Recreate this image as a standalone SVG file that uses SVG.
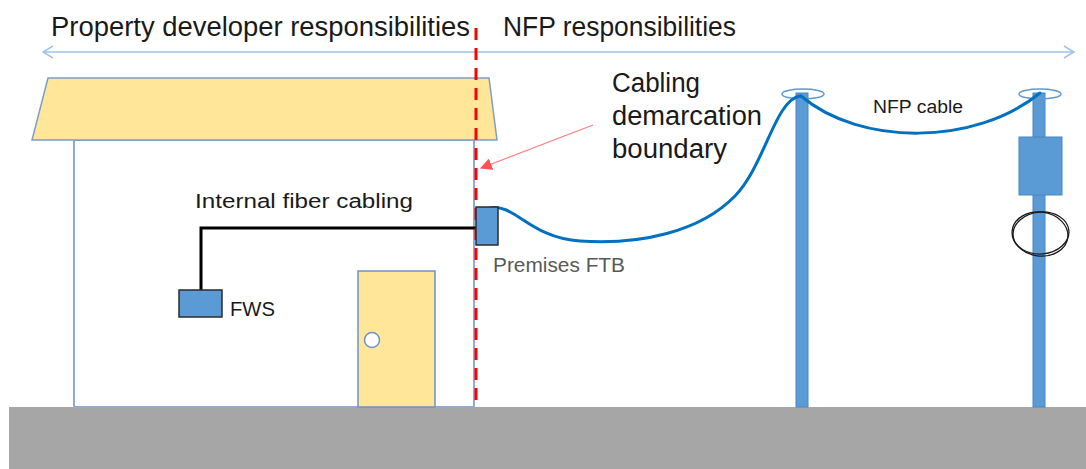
<svg xmlns="http://www.w3.org/2000/svg" width="1086" height="469" viewBox="0 0 1086 469">
  <style>
    .lbl { font-family: "Liberation Sans", Arial, sans-serif; fill: #1a1a1a; }
    .head { font-size: 27px; }
    .mid { font-size: 20px; }
    .call { font-size: 27px; }
    .pole { fill: #5b9bd5; stroke: #4a86c0; stroke-width: 1; }
    .ring { fill: none; stroke: #5b9bd5; stroke-width: 1.5; }
    .fiber { fill: none; stroke: #0070c0; stroke-width: 3; stroke-linecap: round; }
    .box { fill: #5b9bd5; stroke: #2b2b2b; stroke-width: 1.5; }
    .wall { stroke: #8eaad6; stroke-width: 2; }
  </style>
  <defs>
    <marker id="chevron-start" viewBox="0 0 12 14" refX="1" refY="7" markerWidth="12" markerHeight="14" markerUnits="userSpaceOnUse" orient="auto">
      <path d="M11,1 L1,7 L11,13" fill="none" stroke="#9dc3e6" stroke-width="1.5"/>
    </marker>
    <marker id="chevron-end" viewBox="0 0 12 14" refX="11" refY="7" markerWidth="12" markerHeight="14" markerUnits="userSpaceOnUse" orient="auto">
      <path d="M1,1 L11,7 L1,13" fill="none" stroke="#9dc3e6" stroke-width="1.5"/>
    </marker>
    <marker id="red-head" viewBox="0 0 10 10" refX="9" refY="5" markerWidth="12" markerHeight="12" markerUnits="userSpaceOnUse" orient="auto">
      <path d="M0,0 L10,5 L0,10 Z" fill="#ff5050"/>
    </marker>
  </defs>

  <rect width="1086" height="469" fill="#ffffff"/>

  <!-- ground -->
  <rect id="ground" x="9" y="407" width="1077" height="62" fill="#a6a6a6"/>

  <!-- headings and responsibility span -->
  <g id="headings">
    <text class="lbl head" x="51" y="36" textLength="419" lengthAdjust="spacingAndGlyphs">Property developer responsibilities</text>
    <text class="lbl head" x="503" y="36" textLength="233" lengthAdjust="spacingAndGlyphs">NFP responsibilities</text>
    <line x1="43" y1="52" x2="1074" y2="52" stroke="#9dc3e6" stroke-width="1.5" marker-start="url(#chevron-start)" marker-end="url(#chevron-end)"/>
  </g>

  <!-- house -->
  <g id="house">
    <rect class="wall" x="74" y="140" width="400" height="267" fill="#ffffff"/>
    <polygon points="48,78 489,78 497,140 32,140" fill="#ffe699" stroke="#7f9cc8" stroke-width="1.5"/>
  </g>
  <g id="door">
    <rect x="358" y="271" width="77" height="136" fill="#ffe699" stroke="#7092c4" stroke-width="1.5"/>
    <circle cx="372" cy="340" r="7.5" fill="#ffffff" stroke="#7092c4" stroke-width="1.5"/>
  </g>

  <!-- poles -->
  <g id="pole-1">
    <rect class="pole" x="796" y="93" width="12" height="314"/>
    <ellipse class="ring" cx="803" cy="94" rx="21" ry="5"/>
  </g>
  <g id="pole-2">
    <rect class="pole" x="1033" y="93" width="12" height="314"/>
    <ellipse class="ring" cx="1040" cy="94" rx="21" ry="5"/>
    <rect class="pole" x="1019" y="137" width="43" height="58"/>
    <ellipse cx="1040" cy="234" rx="28" ry="22" fill="none" stroke="#1a1a1a" stroke-width="1.3" transform="rotate(8 1040 234)"/>
    <ellipse cx="1041" cy="233" rx="28" ry="21" fill="none" stroke="#1a1a1a" stroke-width="1.3" transform="rotate(-5 1041 233)"/>
  </g>

  <!-- connectors: cables, boundary and callout arrow -->
  <g id="connectors">
    <polyline points="201,290 201,228 476,228" fill="none" stroke="#000000" stroke-width="3"/>
    <path class="fiber" d="M490,208 C515,203 530,238 580,241 C640,245 700,232 735,196 C765,165 775,100 800,96"/>
    <path class="fiber" d="M801,96 C860,146 975,146 1040,93"/>
    <line x1="476" y1="28" x2="476" y2="407" stroke="#ff0000" stroke-width="3" stroke-dasharray="12 8"/>
    <line x1="593" y1="125" x2="481" y2="168" stroke="#ff7c80" stroke-width="1.2" marker-end="url(#red-head)"/>
  </g>

  <!-- equipment -->
  <g id="fws">
    <rect class="box" x="179" y="290" width="43" height="27"/>
    <text class="lbl mid" x="230" y="316" textLength="45" lengthAdjust="spacingAndGlyphs">FWS</text>
  </g>
  <g id="premises-ftb">
    <rect class="box" x="476" y="207" width="22" height="38"/>
    <text class="lbl mid" x="493" y="272" style="fill:#595959" textLength="132" lengthAdjust="spacingAndGlyphs">Premises FTB</text>
  </g>

  <!-- labels -->
  <g id="labels">
    <text class="lbl mid" x="195" y="208" textLength="218" lengthAdjust="spacingAndGlyphs">Internal fiber cabling</text>
    <text class="lbl" x="873" y="113" font-size="18" textLength="90" lengthAdjust="spacingAndGlyphs">NFP cable</text>
    <text class="lbl call" x="612" y="92" textLength="88" lengthAdjust="spacingAndGlyphs">Cabling</text>
    <text class="lbl call" x="612" y="125" textLength="150" lengthAdjust="spacingAndGlyphs">demarcation</text>
    <text class="lbl call" x="612" y="158" textLength="115" lengthAdjust="spacingAndGlyphs">boundary</text>
  </g>
</svg>
